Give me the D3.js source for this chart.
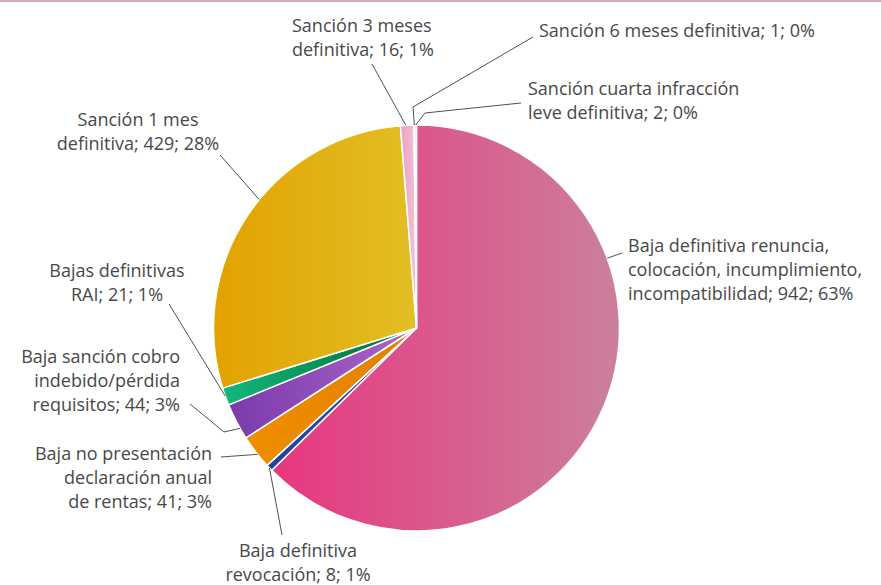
<!DOCTYPE html>
<html>
<head>
<meta charset="utf-8">
<script src="https://cdn.jsdelivr.net/npm/d3@7"></script>
<style>
    html, body { margin: 0; padding: 0; background: #fff; }
    svg { display: block; font-family: "Open Sans", sans-serif; }
</style>
</head>
<body>
<svg id="chart" width="881" height="585"></svg>
<script>

// '|' marks a line break in the label
var categories = [
    'Baja definitiva renuncia,|colocación, incumplimiento,|incompatibilidad',
    'Baja definitiva|revocación',
    'Baja no presentación|declaración anual|de rentas',
    'Baja sanción cobro|indebido/pérdida|requisitos',
    'Bajas definitivas|RAI',
    'Sanción 1 mes|definitiva',
    'Sanción 3 meses|definitiva',
    'Sanción 6 meses definitiva',
    'Sanción cuarta infracción|leve definitiva'
];
var values = [942, 8, 41, 44, 21, 429, 16, 1, 2];
var percents = ['63%', '1%', '3%', '3%', '1%', '28%', '1%', '0%', '0%'];


(function () {

    var W = 881, H = 585;
    var cx = 416.5, cy = 328, R = 203;
    var lineH = 24;

    // left / right colour of each slice's gradient
    var colors = [
        ['#e8367f', '#cb809d'],
        ['#24419a', '#3352a8'],
        ['#ef8e00', '#e27f00'],
        ['#7a3aaa', '#ab66c9'],
        ['#13b87c', '#006a32'],
        ['#e2a200', '#e2bf25'],
        ['#ec9fc2', '#f2c3d6'],
        ['#d9a0bb', '#d9a0bb'],
        ['#e486b0', '#e486b0']
    ];

    // label placement: first baseline, anchor, leader points on the label side,
    // and where along the slice the leader meets the pie (0..1)
    var layout = [
        {x: 628, y: 252, anchor: 'start',  leader: [[622, 253]], t: 0.31},
        {x: 298, y: 557, anchor: 'middle', leader: [[282, 535]], t: 0.5},
        {x: 212, y: 460, anchor: 'end',    leader: [[221, 457]], t: 0.42},
        {x: 180, y: 363, anchor: 'end',    leader: [[190, 404], [224, 432]], t: 0.3},
        {x: 117, y: 277, anchor: 'middle', leader: [[169, 304]], t: 0.52},
        {x: 138, y: 126, anchor: 'middle', leader: [[220, 155]], t: 0.55},
        {x: 292, y: 32,  anchor: 'start',  leader: [[372, 64]], t: 0.4},
        {x: 539, y: 37,  anchor: 'start',  leader: [[533, 37], [413, 107]], t: 0.5},
        {x: 528, y: 95,  anchor: 'start',  leader: [[521, 103], [425, 113]], t: 0.5}
    ];

    var svg = d3.select('#chart');

    // thin pink rule along the top edge
    svg.append('rect')
        .attr('x', 0).attr('y', 0)
        .attr('width', W).attr('height', 2)
        .attr('fill', '#dba6c0');

    var defs = svg.append('defs');
    colors.forEach(function (c, i) {
        var g = defs.append('linearGradient')
            .attr('id', 'grad-' + i)
            .attr('x1', 0).attr('y1', 0)
            .attr('x2', 1).attr('y2', 0);
        g.append('stop').attr('offset', '0%').attr('stop-color', c[0]);
        g.append('stop').attr('offset', '100%').attr('stop-color', c[1]);
    });

    var pie = d3.pie().sort(null).value(function (d) { return d; });
    var arcs = pie(values);

    var arc = d3.arc().innerRadius(0).outerRadius(R);

    var g = svg.append('g').attr('transform', 'translate(' + cx + ',' + cy + ')');

    g.selectAll('path.slice')
        .data(arcs)
        .enter()
        .append('path')
        .attr('class', 'slice')
        .attr('d', arc)
        .attr('fill', function (d, i) { return 'url(#grad-' + i + ')'; })
        .attr('stroke', '#fff')
        .attr('stroke-width', 1.5)
        .attr('stroke-linejoin', 'round');

    // leader lines
    var line = d3.line();
    arcs.forEach(function (a, i) {
        var L = layout[i];
        var ang = a.startAngle + L.t * (a.endAngle - a.startAngle);
        var end = [cx + R * Math.sin(ang), cy - R * Math.cos(ang)];
        var pts = L.leader.concat([end]);
        svg.append('path')
            .attr('d', line(pts))
            .attr('fill', 'none')
            .attr('stroke', '#505050')
            .attr('stroke-width', 1);
    });

    // labels
    arcs.forEach(function (a, i) {
        var L = layout[i];
        var lines = categories[i].split('|');
        lines[lines.length - 1] += '; ' + values[i] + '; ' + percents[i];
        var txt = svg.append('text')
            .attr('text-anchor', L.anchor)
            .attr('font-size', 18)
            .attr('fill', '#48484a');
        lines.forEach(function (s, k) {
            txt.append('tspan')
                .attr('x', L.x)
                .attr('y', L.y + k * lineH)
                .text(s);
        });
    });

})();
</script>
</body>
</html>
